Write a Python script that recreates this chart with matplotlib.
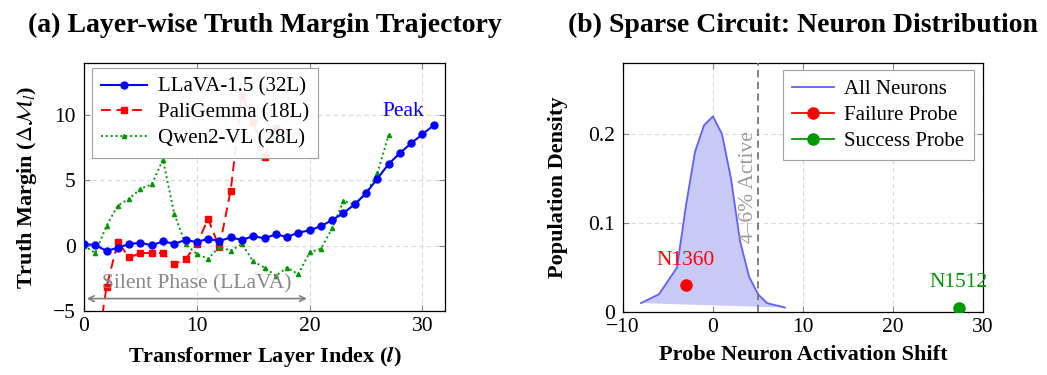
import matplotlib
matplotlib.use("Agg")
import matplotlib.pyplot as plt
import numpy as np

plt.rcParams["font.family"] = ["Liberation Serif", "DejaVu Serif"]
plt.rcParams["mathtext.fontset"] = "stix"

# ── panel (a): truth margin per layer ──
llava_layers = list(range(32))
llava_margin = [0.13, 0.05, -0.4, -0.15, 0.13, 0.23, 0.03, 0.33, 0.15, 0.44,
                0.28, 0.54, 0.36, 0.64, 0.44, 0.74, 0.56, 0.88, 0.67, 1.0,
                1.18, 1.5, 1.97, 2.5, 3.18, 4.03, 5.13, 6.26, 7.1, 7.85,
                8.54, 9.23]

pali_layers = list(range(18))
pali_margin = [-14.0, -8.9, -3.15, 0.3, -0.9, -0.56, -0.56, -0.56, -1.41, -1.03,
               0.13, 2.05, -0.13, 4.23, 11.5, 9.5, 6.8, 9.0]

qwen_layers = list(range(28))
qwen_margin = [0.0, -0.56, 1.54, 3.08, 3.6, 4.36, 4.7, 6.6, 2.44, 0.13,
               -0.64, -1.0, -0.08, -0.38, 0.13, -1.2, -1.67, -2.3, -1.67, -2.18,
               -0.5, -0.23, 1.33, 3.44, 3.13, 4.0, 5.56, 8.46]

# ── panel (b): neuron activation shift distribution ──
shift_x = [-8, -6, -4, -3, -2, -1, 0, 1, 2, 3, 4, 5, 6, 8]
density_y = [0.01, 0.02, 0.05, 0.12, 0.18, 0.21, 0.22, 0.20, 0.15, 0.08,
             0.04, 0.02, 0.01, 0.005]
failure_probe = (-3.0, 0.03)
success_probe = (27.3, 0.005)
active_cut = 5

GRID_KW = dict(color="#d9d9d9", linestyle=(0, (4, 3)), linewidth=0.8)


def style_axes(ax):
    ax.grid(True, **GRID_KW)
    ax.set_axisbelow(True)
    ax.tick_params(direction="in", top=True, right=True, length=4,
                   color="#888888", labelsize=15.5)
    ax.tick_params(axis="x", pad=4)
    ax.tick_params(axis="y", pad=6)
    for s in ax.spines.values():
        s.set_linewidth(0.9)


fig = plt.figure(figsize=(10.47, 3.75), dpi=100)
W, H = 1047, 375

# ── (a) ──
ax1 = fig.add_axes([84 / W, (H - 311) / H, (445 - 84) / W, (311 - 63) / H])
style_axes(ax1)
ax1.plot(llava_layers, llava_margin, color="#0000ff", lw=1.5, marker="o",
         markersize=5, label="LLaVA-1.5 (32L)", zorder=4)
ax1.plot(pali_layers, pali_margin, color="#ff0000", lw=1.4, ls=(0, (5, 3)),
         marker="s", markersize=5, label="PaliGemma (18L)", zorder=3)
ax1.plot(qwen_layers, qwen_margin, color="#009900", lw=1.4, ls=(0, (1, 1.5)),
         marker="^", markersize=3, label="Qwen2-VL (28L)", zorder=3)

ax1.annotate("", xy=(0, -4.05), xytext=(20, -4.05),
             arrowprops=dict(arrowstyle="<->", color="#808080", lw=1.2))
ax1.text(10, -2.9, "Silent Phase (LLaVA)", color="#888888", fontsize=15.5,
         ha="center", va="center")
ax1.text(28.3, 10.3, "Peak", color="#0000ff", fontsize=15.5,
         ha="center", va="center")

ax1.set_xlim(0, 32)
ax1.set_ylim(-5, 14)
ax1.set_xticks([0, 10, 20, 30])
ax1.set_yticks([-5, 0, 5, 10])
ax1.set_xlabel("Transformer Layer Index ($\\mathbfit{l}$)", fontsize=16,
               fontweight="bold", labelpad=6)
ax1.set_ylabel("Truth Margin ($\\Delta\\mathcal{M}_l$)", fontsize=16,
               fontweight="bold", labelpad=10)
ax1.set_title("(a) Layer-wise Truth Margin Trajectory", fontsize=20,
              fontweight="bold", pad=22)
leg1 = ax1.legend(loc="upper left", fontsize=15, framealpha=0.92,
                  edgecolor="#999999", fancybox=False, handlelength=2.2,
                  borderpad=0.45, labelspacing=0.3, handletextpad=0.5,
                  borderaxespad=0.0, bbox_to_anchor=(0.022, 0.98))
leg1.get_frame().set_linewidth(0.8)
leg1.set_zorder(6)

# ── (b) ──
ax2 = fig.add_axes([623 / W, (H - 312) / H, 360 / W, 249 / H])
style_axes(ax2)
ax2.fill(shift_x, density_y, facecolor="#c9c9f7", edgecolor="none", zorder=2)
ax2.plot(shift_x, density_y, color="#6060ff", lw=1.3, label="All Neurons",
         zorder=3)
ax2.axvline(active_cut, color="#777777", lw=1.3, ls=(0, (4, 2.5)), zorder=3)
ax2.text(active_cut - 1.1, 0.14, "4–6% Active", rotation=90, color="#999999",
         fontsize=15.5, ha="center", va="center")
ax2.plot(*failure_probe, marker="o", color="#ff0000", markersize=8,
         label="Failure Probe", zorder=4)
ax2.plot(*success_probe, marker="o", color="#009900", markersize=8,
         label="Success Probe", zorder=4)
ax2.text(failure_probe[0], failure_probe[1] + 0.017, "N1360", color="#ff0000",
         fontsize=15.5, ha="center", va="bottom")
ax2.text(success_probe[0], success_probe[1] + 0.017, "N1512", color="#009900",
         fontsize=15.5, ha="center", va="bottom")

ax2.set_xlim(-10, 30)
ax2.set_ylim(0, 0.28)
ax2.set_xticks([-10, 0, 10, 20, 30])
ax2.set_yticks([0, 0.1, 0.2])
ax2.set_yticklabels(["0", "0.1", "0.2"])
ax2.set_xlabel("Probe Neuron Activation Shift", fontsize=16,
               fontweight="bold", labelpad=6)
ax2.set_ylabel("Population Density", fontsize=16, fontweight="bold",
               labelpad=14)
ax2.set_title("(b) Sparse Circuit: Neuron Distribution", fontsize=20,
              fontweight="bold", pad=22)
leg2 = ax2.legend(loc="upper right", fontsize=15, framealpha=0.92,
                  edgecolor="#999999", fancybox=False, handlelength=2.0,
                  borderpad=0.45, labelspacing=0.3, handletextpad=0.5,
                  borderaxespad=0.0, bbox_to_anchor=(0.975, 0.97))
leg2.get_frame().set_linewidth(0.8)
for h in leg2.legend_handles[1:]:
    h.set_linestyle("-")
    h.set_linewidth(1.3)

fig.savefig("out.png", dpi=100)
